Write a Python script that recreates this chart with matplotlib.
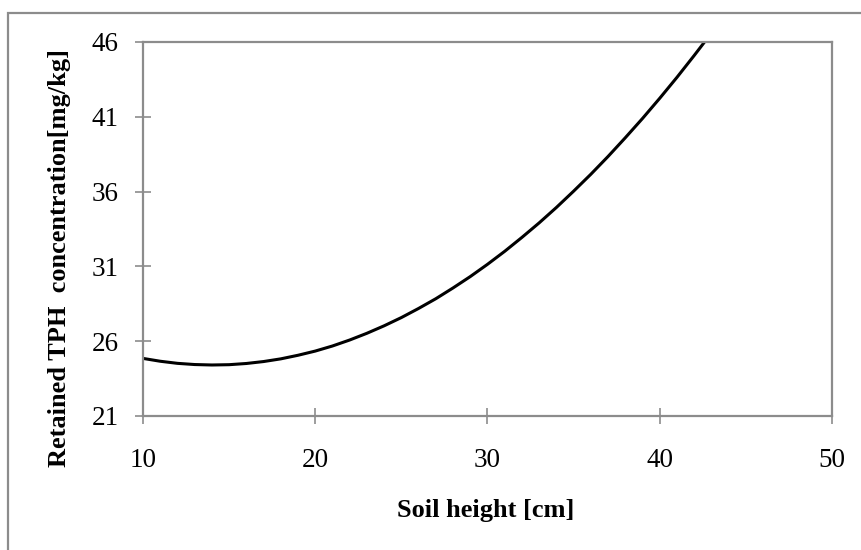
import matplotlib
matplotlib.use("Agg")
import matplotlib.pyplot as plt
from matplotlib.patches import Rectangle

# Retained TPH concentration read along the soil column
soil_height = [10, 11, 12, 13, 14, 15, 16, 17, 18, 19, 20, 21, 22, 23, 24, 25, 26,
               27, 28, 29, 30, 31, 32, 33, 34, 35, 36, 37, 38, 39, 40, 41, 42, 42.6]
tph_conc = [24.85, 24.66, 24.52, 24.44, 24.41, 24.43, 24.51, 24.64, 24.82, 25.06,
            25.34, 25.68, 26.08, 26.53, 27.03, 27.58, 28.19, 28.84, 29.56, 30.32,
            31.14, 32.01, 32.94, 33.91, 34.94, 36.03, 37.16, 38.35, 39.60, 40.89,
            42.24, 43.64, 45.10, 46.0]

x_ticks = [10, 20, 30, 40, 50]
y_ticks = [21, 26, 31, 36, 41, 46]

plt.rcParams['font.family'] = ['Liberation Serif', 'DejaVu Serif']

W, H = 862, 550
fig = plt.figure(figsize=(W / 100, H / 100), dpi=100)

# Chart-area frame (left and top edges show within the figure)
fig.add_artist(Rectangle((8 / W, -0.05), 1.2, 1 - 13 / H + 0.05,
                         transform=fig.transFigure, fill=False,
                         edgecolor='#8c8c8c', linewidth=1.6))

left, right, top, bottom = 143, 832, 42, 416
ax = fig.add_axes([left / W, 1 - bottom / H, (right - left) / W, (bottom - top) / H])

ax.plot(soil_height, tph_conc, color='black', linewidth=2.2, solid_capstyle='butt',
        clip_on=True)

ax.set_xlim(10, 50)
ax.set_ylim(21, 46)
ax.set_xticks(x_ticks)
ax.set_yticks(y_ticks)

for s in ax.spines.values():
    s.set_color('#8c8c8c')
    s.set_linewidth(1.6)

ax.tick_params(axis='both', direction='inout', length=11, width=1.2, color='#8c8c8c',
               labelsize=19.5, labelcolor='black')
ax.tick_params(axis='x', pad=17.5)
ax.tick_params(axis='y', pad=12)

fig.text(486 / W, 1 - 510 / H, 'Soil height [cm]', fontsize=19, fontweight='bold',
         ha='center', va='center')
fig.text(60 / W, 1 - 258 / H, 'Retained TPH  concentration[mg/kg]', fontsize=19,
         fontweight='bold', rotation=90, ha='center', va='center')

fig.savefig('out.png', dpi=100)
